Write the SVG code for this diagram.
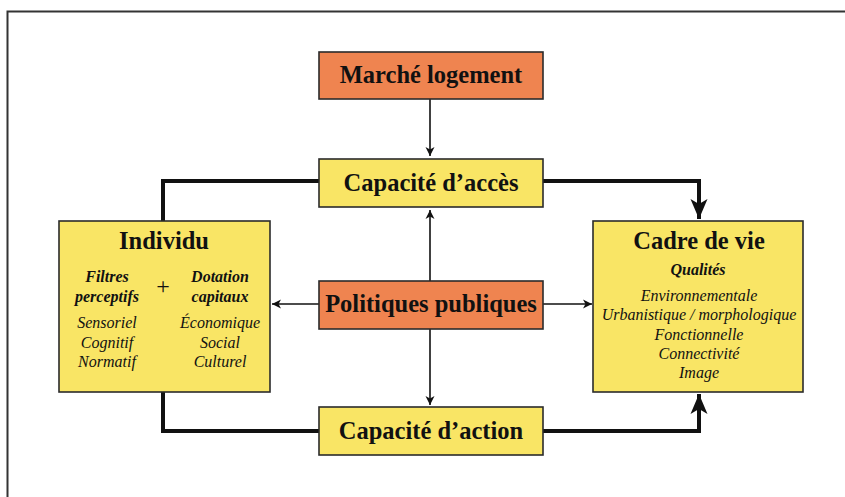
<svg xmlns="http://www.w3.org/2000/svg" width="845" height="497" viewBox="0 0 845 497">
<style>
.orange{fill:#EF8450;stroke:#2b2b2b;stroke-width:1.6}
.yellow{fill:#F9E565;stroke:#2b2b2b;stroke-width:1.6}
.t{font-family:"Liberation Serif","Times New Roman",serif;fill:#111;text-anchor:middle}
.b24{font-size:24.5px;font-weight:bold}
.bi{font-size:16px;font-weight:bold;font-style:italic}
.i{font-size:16px;font-style:italic}
.thin{fill:none;stroke:#111;stroke-width:1.6}
.thick{fill:none;stroke:#111;stroke-width:4}
</style>
<defs>
<marker id="ah" markerWidth="10" markerHeight="10" refX="9" refY="5" orient="auto" markerUnits="userSpaceOnUse">
<path d="M0,0.5 L9,5 L0,9.5 L2.5,5 Z" fill="#111"/>
</marker>
<marker id="ahb" markerWidth="22" markerHeight="20" refX="20" refY="10" orient="auto" markerUnits="userSpaceOnUse">
<path d="M0,1.5 L20,10 L0,18.5 L5,10 Z" fill="#111"/>
</marker>
</defs>
<rect x="0" y="0" width="845" height="497" fill="#fff"/>
<path d="M7.5,497 L7.5,11.5 L845,11.5" fill="none" stroke="#333" stroke-width="2"/>
<g id="connectors">
<path class="thin" d="M430,99 L430,156" marker-end="url(#ah)"/>
<path class="thin" d="M430,281 L430,210" marker-end="url(#ah)"/>
<path class="thin" d="M430,329 L430,405" marker-end="url(#ah)"/>
<path class="thin" d="M319,304 L272,304" marker-end="url(#ah)"/>
<path class="thin" d="M543,304 L592,304" marker-end="url(#ah)"/>
<path class="thick" d="M163,221 L163,181 L319,181"/>
<path class="thick" d="M543,181 L699,181 L699,219" marker-end="url(#ahb)"/>
<path class="thick" d="M163,392 L163,431 L319,431"/>
<path class="thick" d="M543,431 L699,431 L699,394" marker-end="url(#ahb)"/>
</g>
<g id="marche">
<rect class="orange" x="319" y="52" width="224" height="47"/>
<text class="t b24" x="431" y="83">Marché logement</text>
</g>
<g id="acces">
<rect class="yellow" x="319" y="159" width="224" height="48"/>
<text class="t b24" x="431" y="191">Capacité d’accès</text>
</g>
<g id="politiques">
<rect class="orange" x="319" y="281" width="224" height="48"/>
<text class="t b24" x="431" y="312">Politiques publiques</text>
</g>
<g id="action">
<rect class="yellow" x="319" y="407" width="224" height="48"/>
<text class="t b24" x="431" y="439">Capacité d’action</text>
</g>
<g id="individu">
<rect class="yellow" x="59" y="221" width="211" height="171"/>
<text class="t b24" x="164" y="249">Individu</text>
<text class="t bi" x="107" y="282">Filtres</text>
<text class="t bi" x="107" y="302">perceptifs</text>
<text class="t" x="163" y="294" style="font-size:24px">+</text>
<text class="t bi" x="220" y="282">Dotation</text>
<text class="t bi" x="220" y="302">capitaux</text>
<text class="t i" x="107" y="328">Sensoriel</text>
<text class="t i" x="107" y="348">Cognitif</text>
<text class="t i" x="107" y="367">Normatif</text>
<text class="t i" x="220" y="328">Économique</text>
<text class="t i" x="220" y="348">Social</text>
<text class="t i" x="220" y="367">Culturel</text>
</g>
<g id="cadre">
<rect class="yellow" x="593" y="221" width="210" height="171"/>
<text class="t b24" x="699" y="249">Cadre de vie</text>
<text class="t bi" x="698" y="275">Qualités</text>
<text class="t i" x="699" y="301">Environnementale</text>
<text class="t i" x="699" y="320">Urbanistique / morphologique</text>
<text class="t i" x="699" y="340">Fonctionnelle</text>
<text class="t i" x="699" y="359">Connectivité</text>
<text class="t i" x="699" y="378">Image</text>
</g>
</svg>
